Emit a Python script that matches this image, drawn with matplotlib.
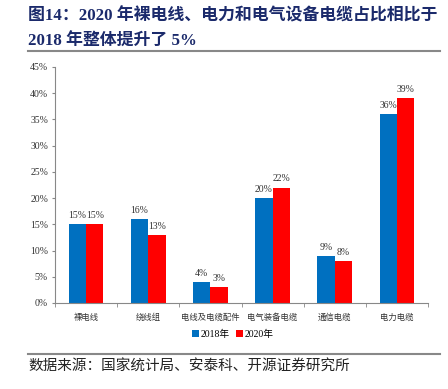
import matplotlib
matplotlib.use("Agg")
from matplotlib import pyplot as plt
from matplotlib.lines import Line2D
import numpy as np

categories = ["裸电线", "绕线组", "电线及电缆配件", "电气装备电缆", "通信电缆", "电力电缆"]
share_2018 = [15, 16, 4, 20, 9, 36]
share_2020 = [15, 13, 3, 22, 8, 39]
series_names = ["2018年", "2020年"]
y_ticks = [0, 5, 10, 15, 20, 25, 30, 35, 40, 45]

blue = "#0070C0"
red = "#FF0000"
navy = "#1B2A6B"
cjk = ["Noto Sans CJK SC", "DejaVu Sans"]
serif_cjk = ["Liberation Serif", "Noto Sans CJK SC"]

fig = plt.figure(figsize=(4.48, 3.89), dpi=100)

# title
fig.text(28 / 448, 1 - 16 / 389, "图14：2020 年裸电线、电力和电气设备电缆占比相比于",
         family=serif_cjk, fontweight="bold", fontsize=12.2, color=navy, va="center", ha="left")
fig.text(28 / 448, 1 - 42 / 389, "2018 年整体提升了 5%",
         family=serif_cjk, fontweight="bold", fontsize=12.2, color=navy, va="center", ha="left")
fig.add_artist(Line2D([28 / 448, 440 / 448], [1 - 51 / 389] * 2, color="#888888", lw=1.5))

ax = fig.add_axes([55 / 448, 1 - 303 / 389, 373 / 448, 236 / 389])
x = np.arange(len(categories))
w = 0.28
b1 = ax.bar(x - w / 2, share_2018, w, color=blue, label=series_names[0])
b2 = ax.bar(x + w / 2, share_2020, w, color=red, label=series_names[1])
for bars, vals in ((b1, share_2018), (b2, share_2020)):
    for r, v in zip(bars, vals):
        ax.text(r.get_x() + r.get_width() / 2, v + 0.8, f"{v}%", ha="center", va="bottom",
                family="Liberation Serif", fontsize=7, color="#333333")

ax.set_xlim(-0.5, len(categories) - 0.5)
ax.set_ylim(0, 45)
ax.set_yticks(y_ticks)
ax.set_yticklabels([f"{t}%" for t in y_ticks], family="Liberation Serif", fontsize=7, color="#333333")
ax.set_xticks(x)
ax.set_xticklabels(categories, family=cjk, fontsize=6, color="#333333")
ax.set_xticks(np.arange(-0.5, len(categories), 1.0), minor=True)
ax.tick_params(axis="x", which="major", length=0, pad=7)
ax.tick_params(axis="x", which="minor", length=3, color="#888888")
ax.tick_params(axis="y", length=2, color="#888888", pad=3)
for s in ("top", "right"):
    ax.spines[s].set_visible(False)
for s in ("left", "bottom"):
    ax.spines[s].set_color("#888888")
    ax.spines[s].set_linewidth(0.8)

fig.legend(loc="center", bbox_to_anchor=(233 / 448, 1 - 334 / 389), ncol=2, frameon=False,
           prop={"family": serif_cjk, "size": 7}, handlelength=0.7, handleheight=0.7,
           handletextpad=0.2, columnspacing=0.6)

fig.add_artist(Line2D([28 / 448, 440 / 448], [1 - 354 / 389] * 2, color="#888888", lw=1.5))
fig.text(28 / 448, 1 - 367 / 389, "数据来源：国家统计局、安泰科、开源证券研究所",
         family=cjk, fontsize=10.5, color="#222222", va="center", ha="left")

fig.savefig("out.png", dpi=100)
